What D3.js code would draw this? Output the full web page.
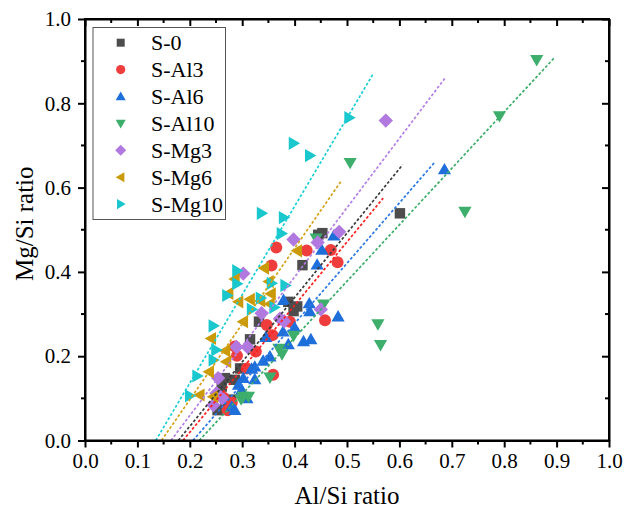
<!DOCTYPE html>
<html><head><meta charset="utf-8">
<script src="https://cdn.jsdelivr.net/npm/d3@7"></script>
<style>
body{margin:0;background:#fff}
svg{display:block}
text{font-family:"Liberation Serif","Times New Roman",serif;fill:#000}
</style>
</head><body>
<svg id="chart" width="624" height="516"></svg>
<script>
// ---------- data ----------
const seriesNames = ["S-0", "S-Al3", "S-Al6", "S-Al10", "S-Mg3", "S-Mg6", "S-Mg10"];
const seriesShapes = ["square", "circle", "up", "down", "diamond", "left", "right"];
const markerColors = ["#4d4d4d", "#ef3d3d", "#1f6fdb", "#3dae6b", "#b179e0", "#cb9a08", "#19c7cc"];
const lineColors   = ["#3a3a3a", "#ff1f1f", "#2a78e6", "#3aae68", "#b47fe6", "#d5a116", "#1bcfd6"];

const dataS0 = [[0.601,0.539],[0.453,0.492],[0.445,0.488],[0.415,0.416],[0.388,0.329],[0.398,0.307],
  [0.405,0.318],[0.332,0.282],[0.315,0.240],[0.296,0.171],[0.286,0.144],[0.267,0.148],[0.261,0.128],
  [0.279,0.097],[0.253,0.072],[0.268,0.085]];
const dataAl3 = [[0.365,0.458],[0.423,0.451],[0.469,0.452],[0.356,0.415],[0.482,0.423],[0.458,0.285],
  [0.391,0.282],[0.347,0.274],[0.358,0.250],[0.326,0.211],[0.286,0.223],[0.290,0.201],[0.309,0.171],
  [0.359,0.156],[0.264,0.102],[0.280,0.090],[0.272,0.072]];
const dataAl6 = [[0.686,0.643],[0.475,0.486],[0.452,0.452],[0.443,0.417],[0.379,0.333],[0.428,0.325],
  [0.429,0.306],[0.483,0.294],[0.400,0.268],[0.378,0.258],[0.345,0.245],[0.388,0.228],[0.417,0.235],
  [0.431,0.240],[0.353,0.199],[0.340,0.189],[0.324,0.175],[0.318,0.170],[0.302,0.148],[0.324,0.145],
  [0.293,0.132],[0.299,0.120],[0.309,0.100],[0.280,0.080],[0.286,0.072]];
const dataAl10 = [[0.862,0.903],[0.791,0.770],[0.506,0.659],[0.725,0.543],[0.441,0.480],[0.455,0.323],
  [0.559,0.276],[0.564,0.227],[0.398,0.249],[0.376,0.205],[0.370,0.218],[0.353,0.150],[0.302,0.104],
  [0.312,0.104],[0.298,0.098]];
const dataMg3 = [[0.574,0.759],[0.485,0.495],[0.444,0.470],[0.398,0.477],[0.302,0.396],[0.450,0.311],
  [0.337,0.302],[0.372,0.289],[0.380,0.283],[0.289,0.222],[0.310,0.222],[0.254,0.148],[0.251,0.112],
  [0.245,0.084],[0.262,0.100]];
const dataMg6 = [[0.405,0.450],[0.342,0.409],[0.286,0.383],[0.351,0.377],[0.274,0.349],[0.355,0.348],
  [0.315,0.335],[0.293,0.329],[0.335,0.331],[0.353,0.324],[0.302,0.282],[0.241,0.242],[0.268,0.213],
  [0.270,0.187],[0.237,0.163],[0.219,0.108],[0.245,0.104]];
const dataMg10 = [[0.504,0.766],[0.398,0.705],[0.429,0.676],[0.337,0.539],[0.379,0.529],[0.375,0.491],
  [0.290,0.403],[0.290,0.372],[0.382,0.368],[0.356,0.373],[0.271,0.344],[0.335,0.338],[0.318,0.311],
  [0.361,0.316],[0.245,0.272],[0.250,0.215],[0.245,0.191],[0.214,0.153],[0.200,0.106]];
const seriesData = [dataS0, dataAl3, dataAl6, dataAl10, dataMg3, dataMg6, dataMg10];

// linear fit lines: start point on y = 0 and end point
const fitStartX = [0.178, 0.187, 0.206, 0.218, 0.164, 0.146, 0.135];
const fitEnd = [[0.606,0.654],[0.569,0.575],[0.668,0.661],[0.895,0.907],[0.689,0.863],[0.488,0.614],[0.550,0.870]];

const xTickValues = [0,0.1,0.2,0.3,0.4,0.5,0.6,0.7,0.8,0.9,1.0];
const xMinorValues = [0.05,0.15,0.25,0.35,0.45,0.55,0.65,0.75,0.85,0.95];
const yTickValues = [0,0.2,0.4,0.6,0.8,1.0];
const yMinorValues = [0.1,0.3,0.5,0.7,0.9];
const xTitle = "Al/Si ratio";
const yTitle = "Mg/Si ratio";

// ---------- layout ----------
const PL = 85, PR = 609, PT = 19, PB = 440.5;
const FONT = '"Liberation Serif","Times New Roman",serif';
const svg = d3.select("#chart");
const xS = d3.scaleLinear().domain([0,1]).range([PL,PR]);
const yS = d3.scaleLinear().domain([0,1]).range([PB,PT]);
const fmt = d3.format(".1f");

function shapePath(type, s) {
  const p = d3.path();
  switch (type) {
    case "square": { const h = s*0.87; p.rect(-h,-h,2*h,2*h); break; }
    case "circle": p.arc(0,0,s,0,2*Math.PI); break;
    case "up": p.moveTo(0,-s*1.1); p.lineTo(s*1.1,s*0.8); p.lineTo(-s*1.1,s*0.8); p.closePath(); break;
    case "down": p.moveTo(0,s*1.1); p.lineTo(s*1.1,-s*0.8); p.lineTo(-s*1.1,-s*0.8); p.closePath(); break;
    case "left": p.moveTo(-s*1.1,0); p.lineTo(s*0.8,-s*1.1); p.lineTo(s*0.8,s*1.1); p.closePath(); break;
    case "right": p.moveTo(s*1.1,0); p.lineTo(-s*0.8,-s*1.1); p.lineTo(-s*0.8,s*1.1); p.closePath(); break;
    case "diamond": { const d = s*1.2; p.moveTo(0,-d); p.lineTo(d,0); p.lineTo(0,d); p.lineTo(-d,0); p.closePath(); break; }
  }
  return p.toString();
}

// ---------- markers ----------
const plotG = svg.append("g");
seriesData.forEach((data, i) => {
  plotG.append("g").selectAll("path").data(data).join("path")
    .attr("transform", d => `translate(${xS(d[0])},${yS(d[1])})`)
    .attr("d", shapePath(seriesShapes[i], 6))
    .attr("fill", markerColors[i]);
});

// ---------- fit lines ----------
const lineGen = d3.line().x(d => xS(d[0])).y(d => yS(d[1]));
fitEnd.forEach((e, i) => {
  plotG.append("path")
    .attr("d", lineGen([[fitStartX[i], 0], e]))
    .attr("fill", "none")
    .attr("stroke", lineColors[i])
    .attr("stroke-width", 1.7)
    .attr("stroke-dasharray", "2.8,2");
});

// ---------- axes ----------
const axW = 2;
const axBottom = svg.append("g").attr("transform", `translate(0,${PB})`)
  .call(d3.axisBottom(xS).tickValues(xTickValues).tickFormat(fmt).tickSizeInner(7).tickSizeOuter(0).tickPadding(6));
axBottom.append("g").selectAll("line").data(xMinorValues).join("line")
  .attr("x1", d => xS(d)).attr("x2", d => xS(d)).attr("y1", 0).attr("y2", 4).attr("stroke","#000").attr("stroke-width", axW);
const axLeft = svg.append("g").attr("transform", `translate(${PL},0)`)
  .call(d3.axisLeft(yS).tickValues(yTickValues).tickFormat(fmt).tickSizeInner(7).tickSizeOuter(0).tickPadding(7));
axLeft.append("g").selectAll("line").data(yMinorValues).join("line")
  .attr("y1", d => yS(d)).attr("y2", d => yS(d)).attr("x1", 0).attr("x2", -4).attr("stroke","#000").attr("stroke-width", axW);
const axTop = svg.append("g").attr("transform", `translate(0,${PT})`)
  .call(d3.axisBottom(xS).tickValues(xTickValues).tickFormat("").tickSizeInner(7).tickSizeOuter(0));
axTop.append("g").selectAll("line").data(xMinorValues).join("line")
  .attr("x1", d => xS(d)).attr("x2", d => xS(d)).attr("y1", 0).attr("y2", 4).attr("stroke","#000").attr("stroke-width", axW);
const axRight = svg.append("g").attr("transform", `translate(${PR},0)`)
  .call(d3.axisLeft(yS).tickValues(yTickValues).tickFormat("").tickSizeInner(7).tickSizeOuter(0));
axRight.selectAll(".tick line").attr("x2", -7);
axRight.append("g").selectAll("line").data(yMinorValues).join("line")
  .attr("y1", d => yS(d)).attr("y2", d => yS(d)).attr("x1", 0).attr("x2", -4).attr("stroke","#000").attr("stroke-width", axW);

[axBottom, axLeft, axTop, axRight].forEach(g => {
  g.attr("font-family", FONT);
  g.select(".domain").attr("stroke", "#000").attr("stroke-width", axW);
  g.selectAll(".tick line").attr("stroke", "#000").attr("stroke-width", axW);
  g.selectAll(".tick text").attr("font-family", FONT).style("font-family", FONT).style("font-size", "21px").attr("fill", "#000");
});
svg.append("rect").attr("x", PL).attr("y", PT).attr("width", PR-PL).attr("height", PB-PT)
  .attr("fill","none").attr("stroke","#000").attr("stroke-width", axW);

// titles
svg.append("text").attr("x", (PL+PR)/2).attr("y", 504).attr("text-anchor","middle")
  .style("font-family", FONT).style("font-size","25px").text(xTitle);
svg.append("text").attr("transform", `translate(33,${(PT+PB)/2 - 6}) rotate(-90)`).attr("text-anchor","middle")
  .style("font-family", FONT).style("font-size","25px").text(yTitle);

// ---------- legend ----------
const lg = svg.append("g");
lg.append("rect").attr("x", 93).attr("y", 27.5).attr("width", 132.5).attr("height", 192)
  .attr("fill","#fff").attr("stroke","#555").attr("stroke-width",1);
seriesNames.forEach((n, i) => {
  const cy = 42.7 + i*26.9;
  lg.append("path").attr("transform", `translate(120.7,${cy})`)
    .attr("d", shapePath(seriesShapes[i], 4.6)).attr("fill", markerColors[i]);
  lg.append("text").attr("x", 151).attr("y", cy).attr("dy","0.34em")
    .style("font-family", FONT).style("font-size","22px").text(n);
});
</script>
</body></html>
